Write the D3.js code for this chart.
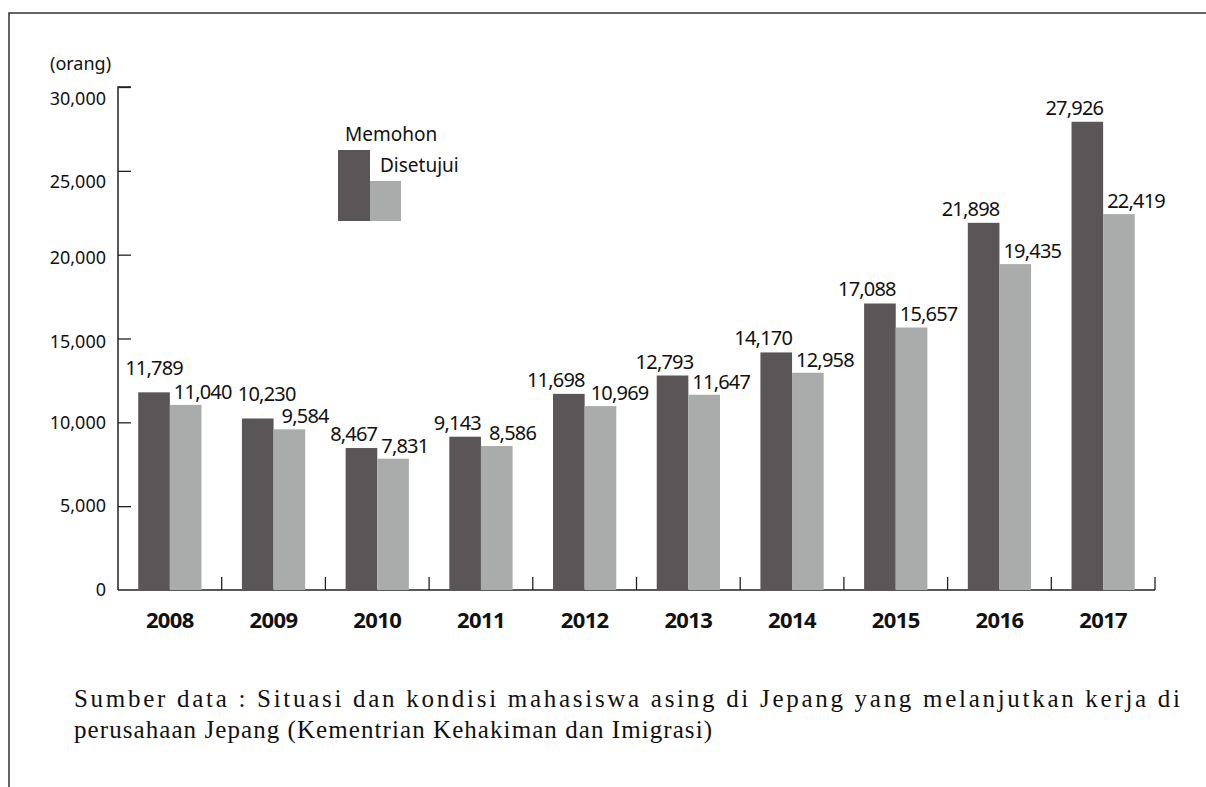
<!DOCTYPE html>
<html lang="id">
<head>
<meta charset="UTF-8">
<script src="https://d3js.org/d3.v7.min.js"></script>
<title>Mahasiswa asing</title>
<style>
    body { margin: 0; background: #fff; }
    text { font-family: "Noto Sans", sans-serif; fill: #111; }
</style>
</head>
<body>
<div id="draw_here"></div>

<script>
    var width = 1206;
    var height = 787;

    // data
    var years = ["2008", "2009", "2010", "2011", "2012", "2013", "2014", "2015", "2016", "2017"];
    var memohon = [11789, 10230, 8467, 9143, 11698, 12793, 14170, 17088, 21898, 27926];
    var disetujui = [11040, 9584, 7831, 8586, 10969, 11647, 12958, 15657, 19435, 22419];
    var seriesNames = ["Memohon", "Disetujui"];
    var yTicks = [0, 5000, 10000, 15000, 20000, 25000, 30000];

    var colors = ["#5a5657", "#aaacab"];

    var margin = {top: 87, left: 118, right: 51, bottom: 197};

    // label nudges where the original moved labels apart by hand
    var labelTweak = {
        "2008": {mAnchor: "middle", mDy: -10},
        "2009": {mDx: 22, mDy: -10, dDx: 4},
        "2011": {dDx: 4},
        "2012": {dDx: 2},
        "2013": {mDx: 5}
    };

    var data = years.map((y, i) => ({year: y, values: [memohon[i], disetujui[i]]}));

    var svg = d3.select("#draw_here")
        .append("svg")
        .attr("width", width)
        .attr("height", height);

    // frame (top and left only)
    svg.append("path")
        .attr("d", "M9,787V13H1206")
        .attr("fill", "none")
        .attr("stroke", "#333")
        .attr("stroke-width", 1.5);

    var x = d3.scaleBand()
        .domain(years)
        .range([margin.left, width - margin.right])
        .paddingInner(0.39)
        .paddingOuter(0.195);

    var x1 = d3.scaleBand()
        .domain([0, 1])
        .range([0, x.bandwidth()]);

    var y = d3.scaleLinear()
        .domain([0, 30000])
        .range([height - margin.bottom, margin.top]);

    var y0 = y(0);

    // x baseline with upward ticks between groups
    var step = x.step();
    var xAxis = svg.append("g");
    xAxis.append("line")
        .attr("x1", margin.left).attr("x2", width - margin.right)
        .attr("y1", y0).attr("y2", y0)
        .attr("stroke", "#222").attr("stroke-width", 1.5);
    xAxis.selectAll("line.tk")
        .data(years)
        .join("line")
        .attr("class", "tk")
        .attr("x1", (d, i) => margin.left + step * (i + 1))
        .attr("x2", (d, i) => margin.left + step * (i + 1))
        .attr("y1", y0).attr("y2", y0 - 13)
        .attr("stroke", "#222").attr("stroke-width", 1.3);

    xAxis.selectAll("text")
        .data(years)
        .join("text")
        .attr("x", d => x(d) + x.bandwidth() / 2)
        .attr("y", 628)
        .attr("text-anchor", "middle")
        .attr("font-size", 22)
        .attr("font-weight", "bold")
        .attr("letter-spacing", -0.6)
        .text(d => d);

    // y axis, ticks pointing inward
    var yAxis = svg.append("g")
        .attr("transform", `translate(${margin.left},0)`)
        .call(d3.axisRight(y).tickValues(yTicks).tickSize(13).tickFormat(""));
    yAxis.select(".domain")
        .attr("d", `M13,${y(30000)}H0V${y0}`)
        .attr("stroke", "#222").attr("stroke-width", 1.5);
    yAxis.selectAll(".tick line").attr("stroke", "#222").attr("stroke-width", 1.3);
    yAxis.selectAll(".tick").filter(d => d === 0).select("line").remove();
    yAxis.selectAll(".tick").append("text")
        .attr("x", -12)
        .attr("dy", d => d >= 25000 ? "0.95em" : (d >= 15000 ? "0.5em" : "0.32em"))
        .attr("text-anchor", "end")
        .attr("font-size", 18)
        .attr("fill", "#111")
        .text(d => d3.format(",")(d));

    svg.append("text")
        .attr("x", 50).attr("y", 70)
        .attr("font-size", 18)
        .text("(orang)");

    // bars
    var groups = svg.append("g")
        .selectAll("g")
        .data(data)
        .join("g")
        .attr("transform", d => `translate(${x(d.year)},0)`);

    groups.selectAll("rect")
        .data(d => d.values)
        .join("rect")
        .attr("x", (v, i) => x1(i))
        .attr("width", x1.bandwidth())
        .attr("y", v => y(v))
        .attr("height", v => y0 - y(v))
        .attr("fill", (v, i) => colors[i]);

    // value labels
    groups.each(function (d) {
        var t = labelTweak[d.year] || {};
        var g = d3.select(this);
        g.append("text")
            .attr("x", (t.mAnchor === "middle" ? x1(0) + x1.bandwidth() / 2 : x1(1)) + (t.mDx || 0))
            .attr("y", y(d.values[0]) - 7 + (t.mDy || 0))
            .attr("text-anchor", t.mAnchor || "end")
            .attr("font-size", 20)
            .attr("letter-spacing", -0.8)
            .text(d3.format(",")(d.values[0]));
        g.append("text")
            .attr("x", x1(1) + 4 + (t.dDx || 0))
            .attr("y", y(d.values[1]) - 6)
            .attr("text-anchor", "start")
            .attr("font-size", 20)
            .attr("letter-spacing", -0.8)
            .text(d3.format(",")(d.values[1]));
    });

    // legend
    var legend = svg.append("g");
    legend.append("rect")
        .attr("x", 338).attr("y", 150).attr("width", 32).attr("height", 71)
        .attr("fill", colors[0]);
    legend.append("rect")
        .attr("x", 370).attr("y", 181).attr("width", 31).attr("height", 40)
        .attr("fill", colors[1]);
    legend.append("text")
        .attr("x", 345).attr("y", 141)
        .attr("font-size", 19)
        .text(seriesNames[0]);
    legend.append("text")
        .attr("x", 380).attr("y", 172)
        .attr("font-size", 19)
        .text(seriesNames[1]);

    // source note
    var note = [
        {t: "Sumber data : Situasi dan kondisi mahasiswa asing di Jepang yang melanjutkan kerja di", y: 707, w: 1106},
        {t: "perusahaan Jepang (Kementrian Kehakiman dan Imigrasi)", y: 738, w: 638}
    ];
    svg.selectAll("text.note")
        .data(note)
        .join("text")
        .attr("class", "note")
        .attr("x", 74)
        .attr("y", d => d.y)
        .attr("textLength", d => d.w)
        .attr("lengthAdjust", "spacing")
        .style("font-family", "'Liberation Serif', 'DejaVu Serif', serif")
        .attr("font-size", 25)
        .text(d => d.t);
</script>
</body>
</html>
